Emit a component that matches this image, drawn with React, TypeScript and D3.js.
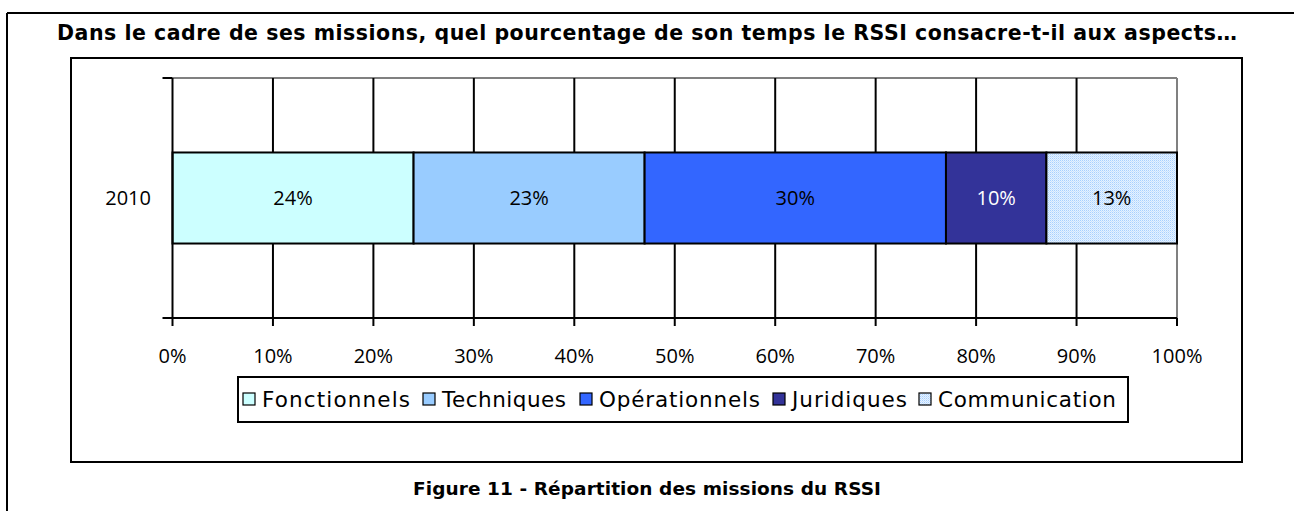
import React, { useEffect, useRef } from "react";
import * as d3 from "d3";

const title = "Dans le cadre de ses missions, quel pourcentage de son temps le RSSI consacre-t-il aux aspects…";
const caption = "Figure 11 - Répartition des missions du RSSI";
const categories = ["2010"];
const seriesNames = ["Fonctionnels", "Techniques", "Opérationnels", "Juridiques", "Communication"];
const seriesValues = [24, 23, 30, 10, 13];
const seriesColors = ["#CCFFFF", "#99CCFF", "#3366FF", "#333399", "url(#commPattern)"];
const labelColors = ["#000", "#000", "#000", "#fff", "#000"];
const xTicks = [0, 10, 20, 30, 40, 50, 60, 70, 80, 90, 100];

const W = 1294, H = 511;
const plot = { left: 172.5, right: 1177, top: 78, bottom: 318 };
const labelFont = "'Open Sans', sans-serif";
const legendFont = "'DejaVu Sans', sans-serif";

export default function App() {
  const ref = useRef<SVGSVGElement>(null);
  useEffect(() => {
    const svg = d3.select(ref.current);
    svg.selectAll("*").remove();

    const defs = svg.append("defs");
    const pat = defs.append("pattern").attr("id", "commPattern").attr("patternUnits", "userSpaceOnUse").attr("width", 2).attr("height", 2);
    pat.append("rect").attr("width", 2).attr("height", 2).attr("fill", "#E6F2FF");
    pat.append("rect").attr("width", 1).attr("height", 1).attr("fill", "#A8D0FF");
    pat.append("rect").attr("x", 1).attr("y", 1).attr("width", 1).attr("height", 1).attr("fill", "#C8E2FF");

    svg.append("line").attr("x1", 7).attr("x2", W).attr("y1", 13).attr("y2", 13).attr("stroke", "#000").attr("stroke-width", 2);
    svg.append("line").attr("x1", 7).attr("x2", 7).attr("y1", 13).attr("y2", H).attr("stroke", "#000").attr("stroke-width", 2);

    svg.append("text").attr("x", 647).attr("y", 40).attr("text-anchor", "middle")
      .attr("font-family", legendFont).attr("font-weight", "bold").attr("font-size", 20.5)
      .attr("textLength", 1180).attr("lengthAdjust", "spacing").text(title);

    svg.append("rect").attr("x", 72.5).attr("y", 59.5).attr("width", 1170).attr("height", 403).attr("fill", "none").attr("stroke", "#bbb").attr("stroke-width", 1);
    svg.append("rect").attr("x", 71).attr("y", 58).attr("width", 1171).attr("height", 404).attr("fill", "#fff").attr("stroke", "#000").attr("stroke-width", 2);

    const x = d3.scaleLinear().domain([0, 100]).range([plot.left, plot.right]);
    const y = d3.scaleBand<string>().domain(categories).range([plot.top, plot.bottom]).padding(0.45);

    const g = svg.append("g");
    g.append("line").attr("x1", plot.left).attr("x2", plot.right).attr("y1", plot.top).attr("y2", plot.top).attr("stroke", "#808080").attr("stroke-width", 2);
    g.append("line").attr("x1", plot.right).attr("x2", plot.right).attr("y1", plot.top).attr("y2", plot.bottom).attr("stroke", "#808080").attr("stroke-width", 2);

    g.selectAll(".grid").data(xTicks.filter(t => t > 0 && t < 100)).enter().append("line")
      .attr("x1", d => x(d)).attr("x2", d => x(d)).attr("y1", plot.top).attr("y2", plot.bottom)
      .attr("stroke", "#000").attr("stroke-width", 2);

    const stack = d3.cumsum(seriesValues);
    const starts = seriesValues.map((v, i) => stack[i] - v);
    categories.forEach(cat => {
      seriesValues.forEach((v, i) => {
        g.append("rect").attr("x", x(starts[i])).attr("y", y(cat)!).attr("width", x(starts[i] + v) - x(starts[i])).attr("height", y.bandwidth())
          .attr("fill", seriesColors[i]).attr("stroke", "#000").attr("stroke-width", 2);
      });
      seriesValues.forEach((v, i) => {
        g.append("text").attr("x", x(starts[i] + v / 2)).attr("y", y(cat)! + y.bandwidth() / 2).attr("dy", "0.36em")
          .attr("text-anchor", "middle").attr("font-family", labelFont).attr("font-size", 20).attr("fill", labelColors[i]).text(v + "%");
      });
      g.append("text").attr("x", 151).attr("y", y(cat)! + y.bandwidth() / 2).attr("dy", "0.36em").attr("text-anchor", "end")
        .attr("font-family", labelFont).attr("font-size", 20).text(cat);
    });

    g.append("line").attr("x1", plot.left).attr("x2", plot.left).attr("y1", plot.top).attr("y2", plot.bottom).attr("stroke", "#000").attr("stroke-width", 2);
    g.append("line").attr("x1", plot.left - 10).attr("x2", plot.right).attr("y1", plot.bottom).attr("y2", plot.bottom).attr("stroke", "#000").attr("stroke-width", 2);
    g.append("line").attr("x1", plot.left - 10).attr("x2", plot.left).attr("y1", plot.top).attr("y2", plot.top).attr("stroke", "#000").attr("stroke-width", 2);
    g.selectAll(".tick").data(xTicks).enter().append("line")
      .attr("x1", d => x(d)).attr("x2", d => x(d)).attr("y1", plot.bottom).attr("y2", plot.bottom + 8)
      .attr("stroke", "#000").attr("stroke-width", 2);
    g.selectAll(".tl").data(xTicks).enter().append("text")
      .attr("x", d => x(d)).attr("y", 363).attr("text-anchor", "middle")
      .attr("font-family", labelFont).attr("font-size", 20).text(d => d + "%");

    const lg = svg.append("g");
    lg.append("rect").attr("x", 238).attr("y", 377).attr("width", 890).attr("height", 45).attr("fill", "#fff").attr("stroke", "#000").attr("stroke-width", 2);
    const itemX = [243, 423, 580, 773, 919];
    const textLen = [148, 124, 161, 115, 178];
    seriesNames.forEach((n, i) => {
      lg.append("rect").attr("x", itemX[i]).attr("y", 393).attr("width", 12).attr("height", 12).attr("fill", seriesColors[i]).attr("stroke", "#000").attr("stroke-width", 1.2);
      lg.append("text").attr("x", itemX[i] + 19).attr("y", 407).attr("font-family", legendFont).attr("font-size", 21.5)
        .attr("textLength", textLen[i]).attr("lengthAdjust", "spacing").text(n);
    });

    svg.append("text").attr("x", 647).attr("y", 495).attr("text-anchor", "middle")
      .attr("font-family", legendFont).attr("font-weight", "bold").attr("font-size", 18.5)
      .attr("textLength", 468).attr("lengthAdjust", "spacing").text(caption);
  }, []);
  return (
    <svg ref={ref} width={W} height={H} style={{ position: "absolute", left: 0, top: 0, background: "#fff" }} />
  );
}
